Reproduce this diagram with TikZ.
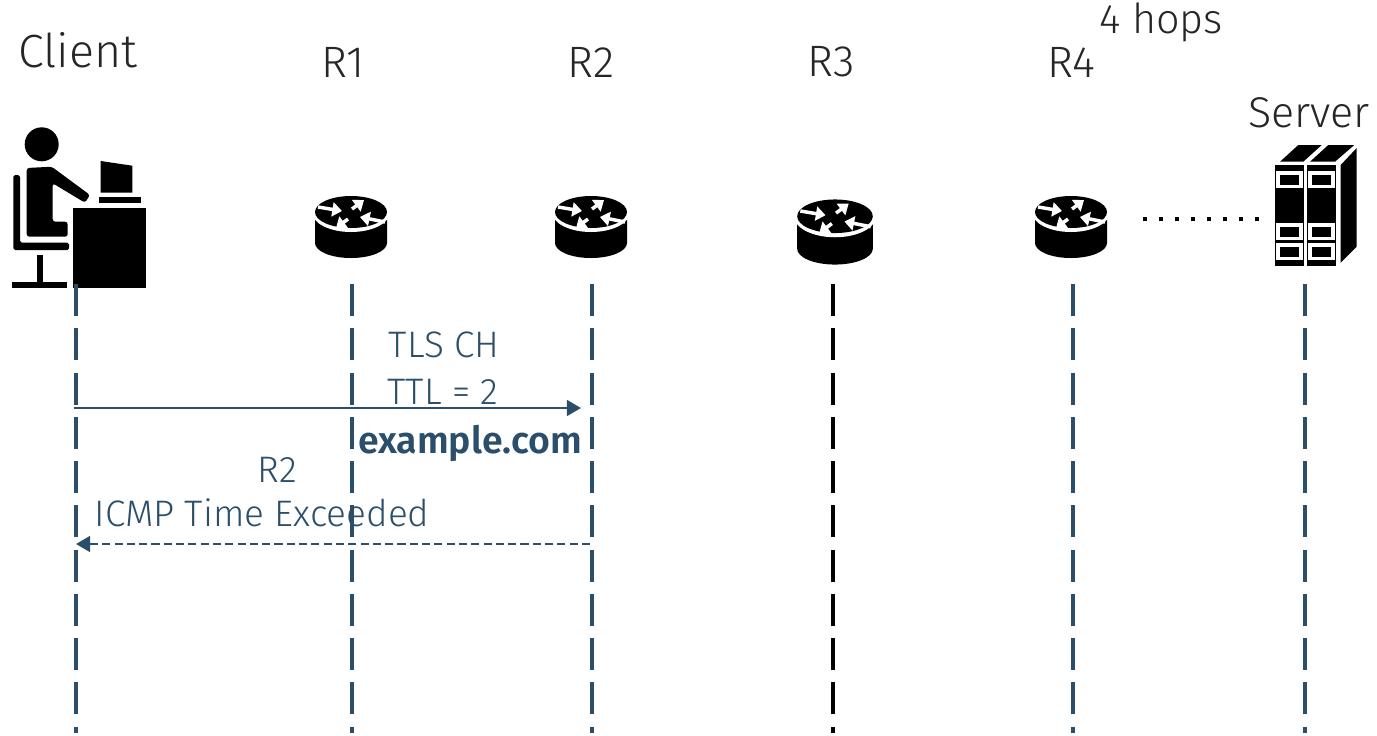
\documentclass[tikz,border=0pt]{standalone}
\usepackage{fontspec}
\setmainfont{Fira Sans Light}[BoldFont={Fira Sans SemiBold}]
\usetikzlibrary{arrows.meta}
\definecolor{linkblue}{HTML}{2B4F6B}
\tikzstyle{lifeline} = [linkblue,line width=1.9pt,dash pattern=on 18.2pt off 7pt]
\tikzstyle{blackline} = [lifeline,black]
\tikzstyle{arrow} = [linkblue,line width=1.2pt,-{Triangle[length=8pt,width=9pt]}]
\tikzstyle{backarrow} = [arrow,line width=1.25pt,dash pattern=on 4.6pt off 2.4pt]
\tikzstyle{title} = [text=black!85,font=\fontsize{25}{29}\selectfont]
\tikzstyle{msg} = [text=linkblue,font=\fontsize{21}{25}\selectfont]
\tikzstyle{flow} = [white,line width=2pt,-{Triangle[length=5.5pt,width=8pt]}]
\tikzset{
  router/.pic={
    \fill[black] (-36,-14) -- (36,-14) -- (36,16) arc[start angle=0,end angle=180,x radius=36,y radius=15] -- cycle;
    \fill[white] (0,-15) circle[x radius=39,y radius=20];
    \fill[black] (0,-15) circle[x radius=36,y radius=16];
    \draw[flow] (-33,-20) -- (-9,-16);
    \draw[flow] (1,-18) -- (13,-27);
    \draw[flow] (34,-5) -- (9,-10);
    \draw[flow] (-3,-8) -- (-15,1);
  }
}
\begin{document}
\begin{tikzpicture}[x=0.02cm,y=-0.02cm]
  \useasboundingbox (0,0) rectangle (1377,735);
  % client
  \fill (41.7,144.3) circle[radius=17];
  \fill[rounded corners=1.5] (26.7,168) -- (51.7,166.7) -- (90,195) -- (85,202.7) -- (52.7,183.3) -- (52.7,221.7) -- (67.7,221.7) -- (67.7,236.7) -- (26.7,236.7) -- cycle;
  \fill[rounded corners=1] (13.3,175) -- (20,175) -- (20,242.7) -- (69,242.7) -- (69,250) -- (13.3,250) -- cycle;
  \fill (36.7,255) rectangle (42.7,282);
  \fill (12,281.7) rectangle (66.7,287.7);
  \fill (73.3,208.3) rectangle (146,287.7);
  \fill (100.7,161) -- (132.3,165.7) -- (132.3,192.7) -- (100.7,192.7) -- cycle;
  \fill (99.3,197.3) rectangle (140.7,203.3);
  % routers
  \pic (router1) at (351,227) {router};
  \pic (router2) at (591,227) {router};
  \pic[scale=1.05] (router3) at (835,232) {router};
  \pic (router4) at (1071,227) {router};
  % server
  \fill (1280,161.7) -- (1298.3,145) -- (1321.7,145) -- (1303.3,161.7) -- cycle;
  \fill (1310,161.7) -- (1328.3,145) -- (1354.3,145) -- (1335,161.7) -- cycle;
  \fill (1340.7,165) -- (1356.7,148) -- (1356.7,246.7) -- (1340.7,262.7) -- cycle;
  \foreach \x in {1275,1307} {
    \fill (\x,165) rectangle ++(29,101);
    \foreach \y in {170.7,222.7,243.3} {
      \fill[white] (\x+1,\y) rectangle ++(27,17);
      \fill (\x+5,\y+4) rectangle ++(19,10);
    }
  }
  \foreach \x in {1145,1161,1177,1193,1209,1225,1241,1257}
    \fill (\x-2,217) rectangle ++(4,4);
  % lifelines
  \coordinate (clienttop) at (76,284);
  \coordinate (clientbot) at (76,733);
  \coordinate (r1top) at (352,284);
  \coordinate (r1bot) at (352,733);
  \coordinate (r2top) at (592,284);
  \coordinate (r2bot) at (592,733);
  \coordinate (r3top) at (833,284);
  \coordinate (r3bot) at (833,733);
  \coordinate (r4top) at (1073,284);
  \coordinate (r4bot) at (1073,733);
  \coordinate (servertop) at (1305,284);
  \coordinate (serverbot) at (1305,733);
  \draw[lifeline] (clienttop) -- (clientbot);
  \draw[lifeline] (r1top) -- (r1bot);
  \draw[lifeline] (r2top) -- (r2bot);
  \draw[blackline] (r3top) -- (r3bot);
  \draw[lifeline] (r4top) -- (r4bot);
  \draw[lifeline] (servertop) -- (serverbot);
  % messages
  \coordinate (hellostart) at (74,408);
  \coordinate (helloend) at (581,408);
  \coordinate (replystart) at (590,544);
  \coordinate (replyend) at (76,544);
  \draw[arrow] (hellostart) -- (helloend);
  \draw[backarrow] (replystart) -- (replyend);
  % labels
  \node[title,font=\fontsize{26.5}{30}\selectfont] (clientlabel) at (78,50) {Client};
  \node[title] (r1label) at (343,62) {R1};
  \node[title] (r2label) at (591,62) {R2};
  \node[title] (r3label) at (831,62) {R3};
  \node[title] (r4label) at (1071,62) {R4};
  \node[title,font=\fontsize{23.5}{27}\selectfont] (hopslabel) at (1161,22) {4 hops};
  \node[title,font=\fontsize{24.5}{28}\selectfont] (serverlabel) at (1309,113) {Server};
  \node[msg] (chlabel) at (444,345) {TLS CH};
  \node[msg] (ttllabel) at (443,392) {TTL = 2};
  \node[msg,font=\fontsize{21.3}{25}\selectfont\bfseries] (domainlabel) at (470,443) {example.com};
  \node[msg] (r2reply) at (277,470) {R2};
  \node[msg] (icmplabel) at (262,513) {ICMP Time Exceeded};
\end{tikzpicture}
\end{document}
